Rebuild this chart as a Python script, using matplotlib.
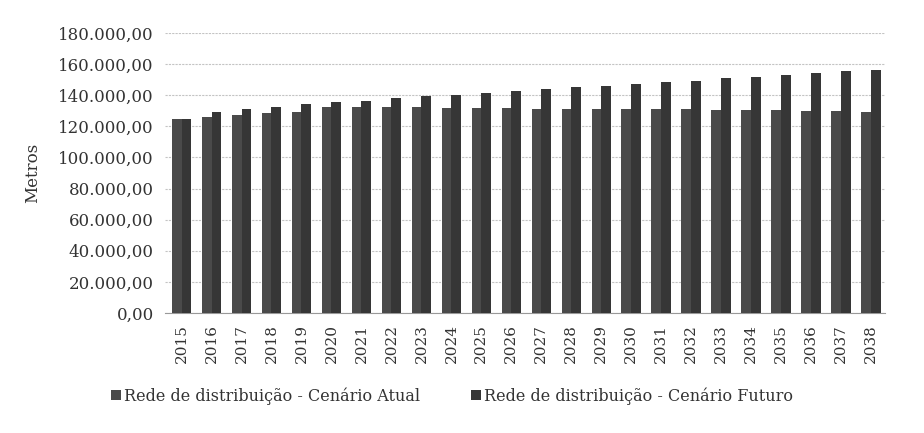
import numpy as np
import matplotlib.pyplot as plt

# dados (metros)
anos = [str(a) for a in range(2015, 2039)]
atual = [124900, 126000, 127100, 128400, 129500, 132700, 132700, 132400,
         132400, 132000, 131800, 131800, 131400, 131400, 131400, 130900,
         130900, 130900, 130500, 130500, 130300, 129800, 129800, 129500]
futuro = [124900, 129500, 131400, 132700, 134200, 135300, 136300, 137900,
          139200, 139800, 141100, 142400, 143900, 145000, 146000, 147100,
          148200, 149300, 150800, 151800, 152900, 154000, 155300, 156400]
yticks = list(range(0, 180001, 20000))
ytick_labels = ["{:,.2f}".format(v).replace(",", "X").replace(".", ",").replace("X", ".") for v in yticks]

plt.rcParams['font.family'] = ['DejaVu Serif']

fig = plt.figure(figsize=(9.24, 4.33), dpi=100)
ax = fig.add_axes([0.1786, 0.277, 0.779, 0.647])

x = np.arange(len(anos))
w = 0.33
ax.bar(x - w / 2, atual, width=w, color='#4a4a4a', label='Rede de distribuição - Cenário Atual', zorder=3)
ax.bar(x + w / 2, futuro, width=w, color='#363636', label='Rede de distribuição - Cenário Futuro', zorder=3)

ax.set_xlim(-0.55, len(anos) - 0.55)
ax.set_ylim(0, 180000)
ax.set_yticks(yticks)
ax.set_yticklabels(ytick_labels, fontsize=12, color='#333333')
ax.set_xticks(x)
ax.set_xticklabels(anos, rotation=90, fontsize=11, color='#333333')
ax.tick_params(length=0, pad=8)
ax.grid(axis='y', color='#c4c4c4', linestyle=(0, (2, 1)), linewidth=0.8, zorder=0)
for s in ['top', 'right', 'left']:
    ax.spines[s].set_visible(False)
ax.spines['bottom'].set_color('#999999')
ax.set_ylabel('Metros', fontsize=12, color='#333333', labelpad=12)

fig.legend(loc='center left', bbox_to_anchor=(0.105, 0.085), ncol=2, frameon=False,
           fontsize=11.5, handlelength=0.6, handleheight=0.6, handletextpad=0.2,
           columnspacing=3.2, labelcolor='#333333')

plt.savefig('out.png', dpi=100)
